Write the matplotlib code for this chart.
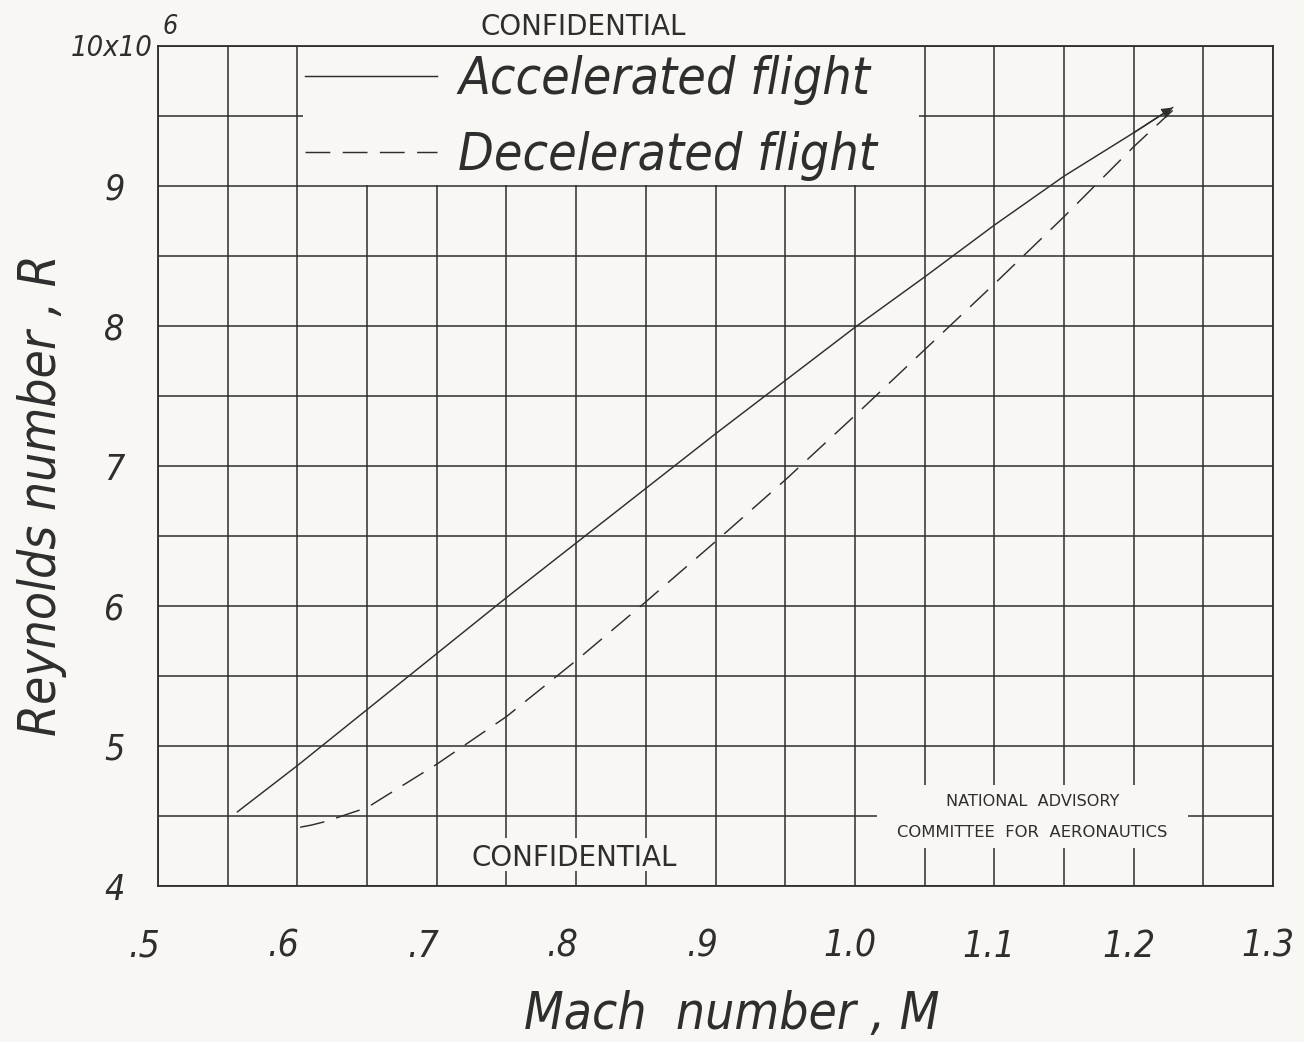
import matplotlib
matplotlib.use("Agg")
import matplotlib.pyplot as plt
from matplotlib.patches import Rectangle
from matplotlib.transforms import ScaledTranslation
from matplotlib import font_manager as fm
import numpy as np

# ---- data ----
mach_acc = [0.557, 0.60, 0.65, 0.70, 0.75, 0.80, 0.85, 0.90, 0.95, 1.00, 1.05, 1.10, 1.15, 1.20, 1.228]
re_acc   = [4.53, 4.86, 5.26, 5.66, 6.06, 6.45, 6.84, 7.23, 7.61, 7.99, 8.35, 8.72, 9.07, 9.38, 9.56]

mach_dec = [0.602, 0.61, 0.62, 0.65, 0.70, 0.75, 0.80, 0.85, 0.90, 0.95, 1.00, 1.05, 1.10, 1.15, 1.20, 1.228]
re_dec   = [4.42, 4.435, 4.46, 4.56, 4.87, 5.21, 5.61, 6.03, 6.46, 6.90, 7.36, 7.83, 8.30, 8.78, 9.28, 9.54]

x_ticks = [0.5, 0.6, 0.7, 0.8, 0.9, 1.0, 1.1, 1.2, 1.3]
x_labels = [".5", ".6", ".7", ".8", ".9", "1.0", "1.1", "1.2", "1.3"]
y_ticks = [4, 5, 6, 7, 8, 9, 10]
y_labels = ["4", "5", "6", "7", "8", "9", ""]
series_labels = ["Accelerated flight", "Decelerated flight"]

# ---- font choice: a thin, narrow italic to imitate the lettering ----
_ttf = fm.fontManager.ttflist
_names = {f.name for f in _ttf}
if "Liberation Sans Narrow" in _names:
    HAND, STRETCH, K = "Liberation Sans Narrow", "normal", 1.08
elif any(f.name == "DejaVu Sans" and str(f.stretch) == "condensed" for f in _ttf):
    HAND, STRETCH, K = "DejaVu Sans", "condensed", 1.07
else:
    HAND, STRETCH, K = "DejaVu Sans", "normal", 1.0
HF = dict(family=[HAND, "DejaVu Sans"], style="italic", fontstretch=STRETCH)

INK = "#2e2e2e"
PAPER = "#f8f7f3"

fig = plt.figure(figsize=(13.04, 10.42), dpi=100, facecolor=PAPER)
ax = fig.add_axes([158/1304, 1-886/1042, (1273-158)/1304, (886-46)/1042])
ax.set_facecolor(PAPER)
ax.set_xlim(0.5, 1.3)
ax.set_ylim(4, 10)

ax.set_xticks(x_ticks)
ax.set_xticklabels(x_labels, fontsize=25*K, color=INK, **HF)
ax.set_xticks(np.arange(0.55, 1.3, 0.1), minor=True)
ax.set_yticks(y_ticks)
ax.set_yticklabels(y_labels, fontsize=24*K, color=INK, **HF)
ax.set_yticks(np.arange(4.5, 10, 1.0), minor=True)
ax.tick_params(which="both", length=0)
ax.tick_params(axis="x", pad=30)
ax.tick_params(axis="y", pad=24)
for lab in ax.get_xticklabels():
    dx = -14 if len(lab.get_text()) == 2 else -5
    lab.set_transform(lab.get_transform() + ScaledTranslation(dx/100, 0, fig.dpi_scale_trans))
ax.grid(which="both", color=INK, linewidth=1.1)
for s in ax.spines.values():
    s.set_color(INK)
    s.set_linewidth(1.3)

# blank areas of the sheet (legend, NACA stamp, confidential stamp)
eps = 0.004
ax.add_patch(Rectangle((0.6 + eps, 9.0 + 0.008), 0.45 - 2*eps, 1.0 - 0.016,
                       facecolor=PAPER, edgecolor="none", zorder=1.8))
ax.add_patch(Rectangle((1.016, 4.27), 0.223, 0.45,
                       facecolor=PAPER, edgecolor="none", zorder=1.8))
ax.add_patch(Rectangle((0.72, 4.11), 0.155, 0.23,
                       facecolor=PAPER, edgecolor="none", zorder=1.8))

l1, = ax.plot(mach_acc, re_acc, color=INK, lw=1.05, zorder=3, label=series_labels[0])
l2, = ax.plot(mach_dec, re_dec, color=INK, lw=1.05, zorder=3, dashes=[17, 8.5],
              label=series_labels[1])
ax.annotate("", xy=(mach_acc[-1], re_acc[-1]), xytext=(mach_acc[-2], re_acc[-2]),
            arrowprops=dict(arrowstyle="-|>", color=INK, lw=1.0, mutation_scale=16,
                            shrinkA=0, shrinkB=0), zorder=3)

leg = ax.legend(handles=[l1, l2], loc="upper left", bbox_to_anchor=(0.6055, 9.935),
                bbox_transform=ax.transData, frameon=False, borderpad=0, borderaxespad=0,
                handlelength=2.84 / (K*1.04), handletextpad=0.45 / (K*1.04), labelspacing=0.5,
                prop=fm.FontProperties(family=[HAND, "DejaVu Sans"], style="italic",
                                       stretch=STRETCH, size=33.5*K*1.04))
for t in leg.get_texts():
    t.set_color(INK)
leg.set_zorder(4)

# stamps
ax.text(1.1275, 4.6, "NATIONAL  ADVISORY", ha="center", va="center", fontsize=11.6,
        family="DejaVu Sans", color=INK, zorder=4)
ax.text(1.1275, 4.385, "COMMITTEE  FOR  AERONAUTICS", ha="center", va="center", fontsize=11.8,
        family="DejaVu Sans", color=INK, zorder=4)
ax.text(0.7985, 4.2, "CONFIDENTIAL", ha="center", va="center", fontsize=20,
        family="DejaVu Sans", color=INK, zorder=4)
fig.text(583/1304, 1-27/1042, "CONFIDENTIAL", ha="center", va="center", fontsize=20,
         family="DejaVu Sans", color=INK)

# multiplier at the top of the y axis
fig.text(153/1304, 1-48/1042, "10x10", ha="right", va="center",
         fontsize=19.5*K, color=INK, **HF)
fig.text(170/1304, 1-27/1042, "6", ha="center", va="center",
         fontsize=18*K, color=INK, **HF)

fig.text(732/1304, 1-1015/1042, "Mach  number , M", ha="center", va="center",
         fontsize=34.5*K, color=INK, **HF)
fig.text(42/1304, 1-495/1042, "Reynolds number , R", ha="center", va="center",
         rotation=90, fontsize=34.5*K, color=INK, **HF)

fig.savefig("out.png", dpi=100, facecolor=PAPER)
